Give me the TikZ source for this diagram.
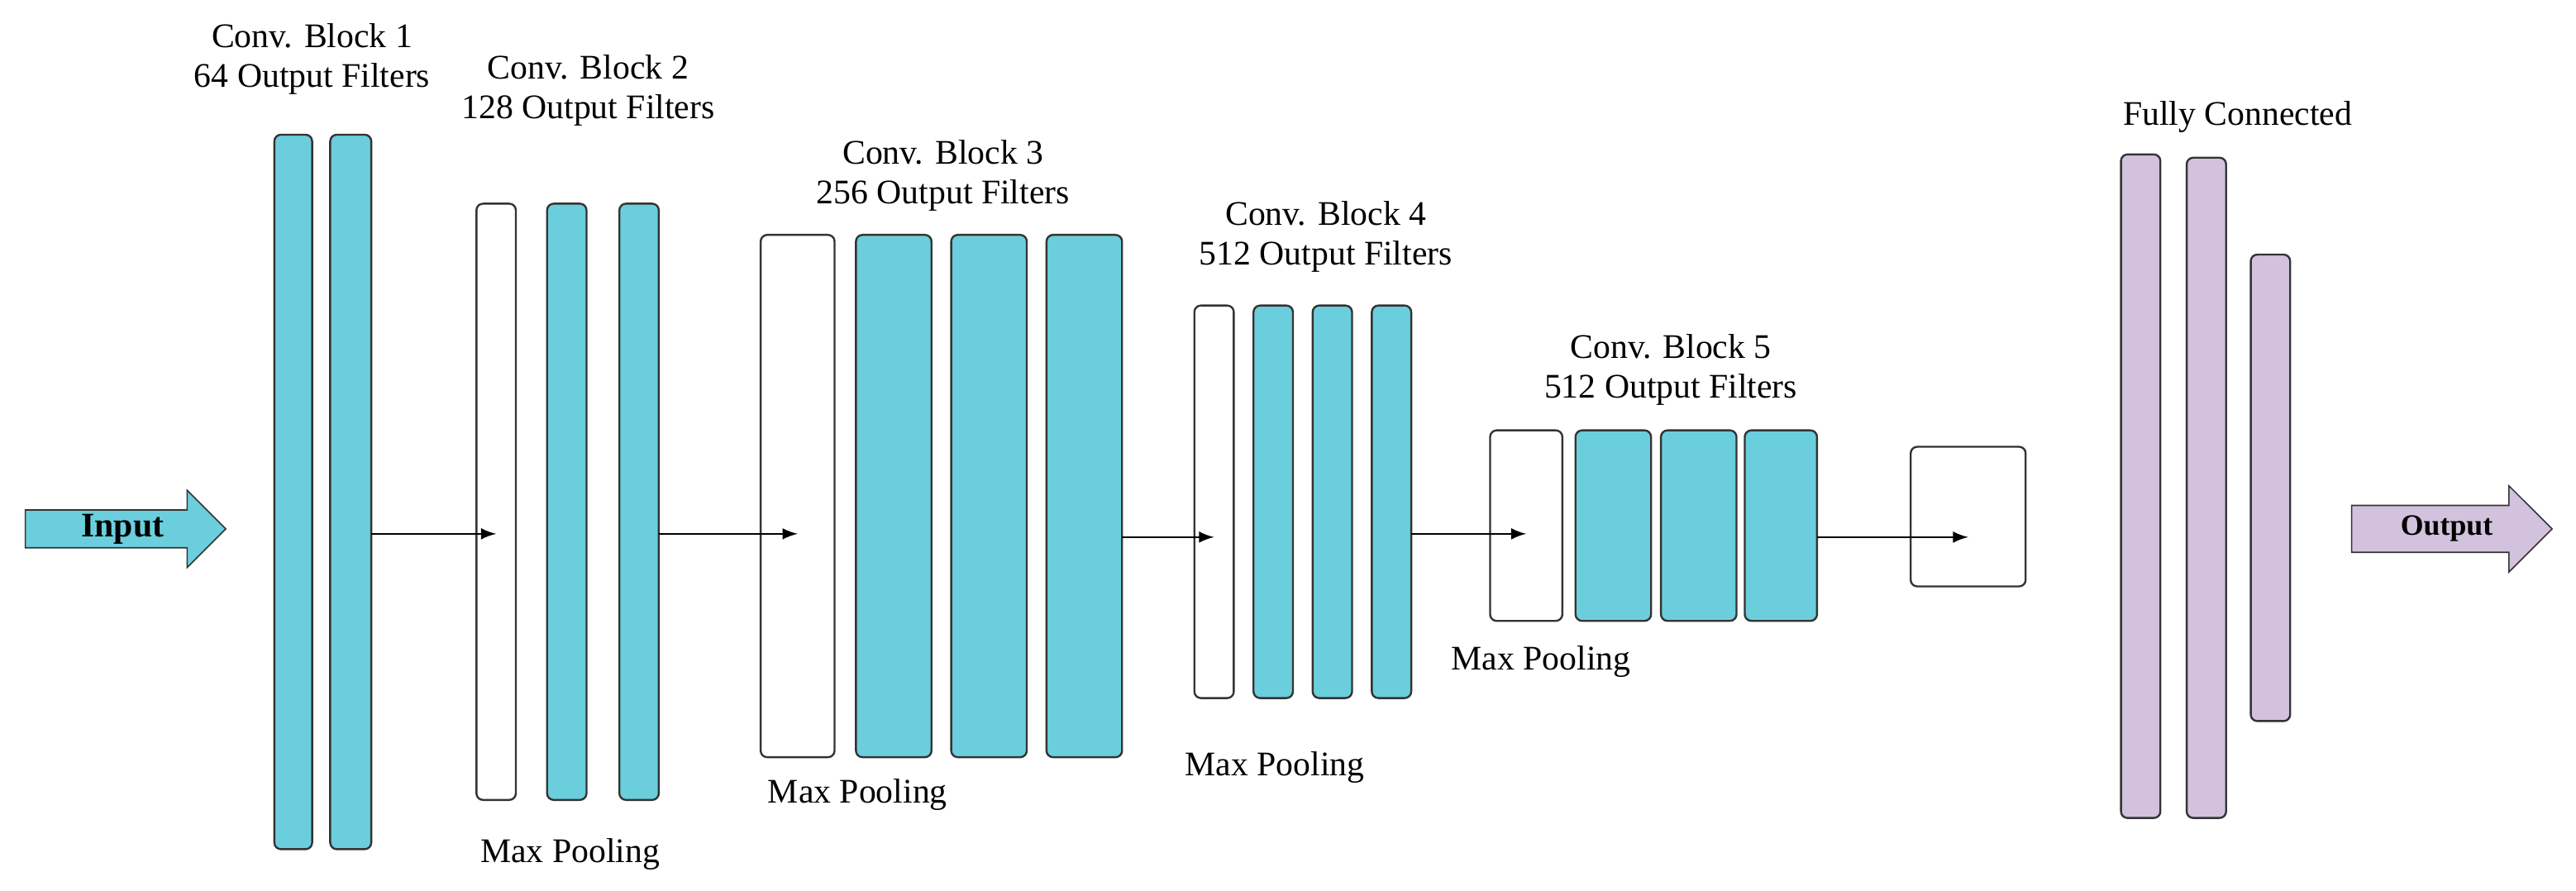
\documentclass[tikz,border=0pt]{standalone}
\usepackage{fontspec}
\setmainfont{Liberation Serif}
\usetikzlibrary{shapes.arrows}
\definecolor{teal1}{HTML}{6BCEDD}
\definecolor{purp}{HTML}{D2C2DD}
\begin{document}
\begin{tikzpicture}[x=0.5pt,y=-0.5pt,
 bar/.style={draw=black!80,line width=0.6pt,rounded corners=2pt},
 tb/.style={bar,fill=teal1},
 wb/.style={bar,fill=white},
 pb/.style={bar,fill=purp},
 lab/.style={font=\fontsize{10.5}{12}\selectfont,align=center},
 con/.style={-latex,line width=0.6pt}]
\useasboundingbox (0,0) rectangle (1568,542);
\def\B#1#2#3#4#5#6{\draw[#1] (#3,#5) rectangle (#4,#6); \path (#3,#5) -- (#4,#6) coordinate[pos=0.5] (#2);}
% block1
\B{tb}{a1}{167}{190}{82}{517}
\B{tb}{a2}{201}{226}{82}{517}
\node[lab] (l1) at (190,36) {Conv. Block 1\\64 Output Filters};
% block2
\B{wb}{b1}{290}{314}{124}{487}
\B{tb}{b2}{333}{357}{124}{487}
\B{tb}{b3}{377}{401}{124}{487}
\node[lab] (l2) at (358,55) {Conv. Block 2\\128 Output Filters};
\node[lab] (m2) at (347,520) {Max Pooling};
% block3
\B{wb}{c1}{463}{508}{143}{461}
\B{tb}{c2}{521}{567}{143}{461}
\B{tb}{c3}{579}{625}{143}{461}
\B{tb}{c4}{637}{683}{143}{461}
\node[lab] (l3) at (574,107) {Conv. Block 3\\256 Output Filters};
\node[lab] (m3) at (522,484) {Max Pooling};
% block4
\B{wb}{d1}{727}{751}{186}{425}
\B{tb}{d2}{763}{787}{186}{425}
\B{tb}{d3}{799}{823}{186}{425}
\B{tb}{d4}{835}{859}{186}{425}
\node[lab] (l4) at (807,144) {Conv. Block 4\\512 Output Filters};
\node[lab] (m4) at (776,467) {Max Pooling};
% block5
\B{wb}{e1}{907}{951}{262}{378}
\B{tb}{e2}{959}{1005}{262}{378}
\B{tb}{e3}{1011}{1057}{262}{378}
\B{tb}{e4}{1062}{1106}{262}{378}
\node[lab] (l5) at (1017,225) {Conv. Block 5\\512 Output Filters};
\node[lab] (m5) at (938,403) {Max Pooling};
% pool box
\B{wb}{f1}{1163}{1233}{272}{357}
% FC
\B{pb}{g1}{1291}{1315}{94}{498}
\B{pb}{g2}{1331}{1355}{96}{498}
\B{pb}{g3}{1370}{1394}{155}{439}
\node[lab] (l6) at (1362,71) {Fully Connected};
% arrows in/out
\node[single arrow,draw=black!80,fill=teal1,minimum width=55\pgflinewidth,single arrow head extend=6pt,
 minimum height=61pt,inner sep=1pt,font=\bfseries\fontsize{10.5}{12}\selectfont,anchor=west,single arrow tip angle=90] (in) at (15,322) {\hspace{4pt}Input\hspace{8pt}};
\node[single arrow,draw=black!80,fill=purp,single arrow head extend=6pt,
 minimum height=61pt,inner sep=3pt,font=\bfseries\fontsize{9}{10}\selectfont,anchor=west] (out) at (1431,322) {\hspace{4pt}Output\hspace{6pt}};
% connectors
\draw[con] (226,325) -- (b1.west|-0,325);
\draw[con] (401,325) -- (c1.west|-0,325);
\draw[con] (683,327) -- (d1.west|-0,327);
\draw[con] (859,325) -- (e1.west|-0,325);
\draw[con] (1106,327) -- (f1.west|-0,327);
\end{tikzpicture}
\end{document}
